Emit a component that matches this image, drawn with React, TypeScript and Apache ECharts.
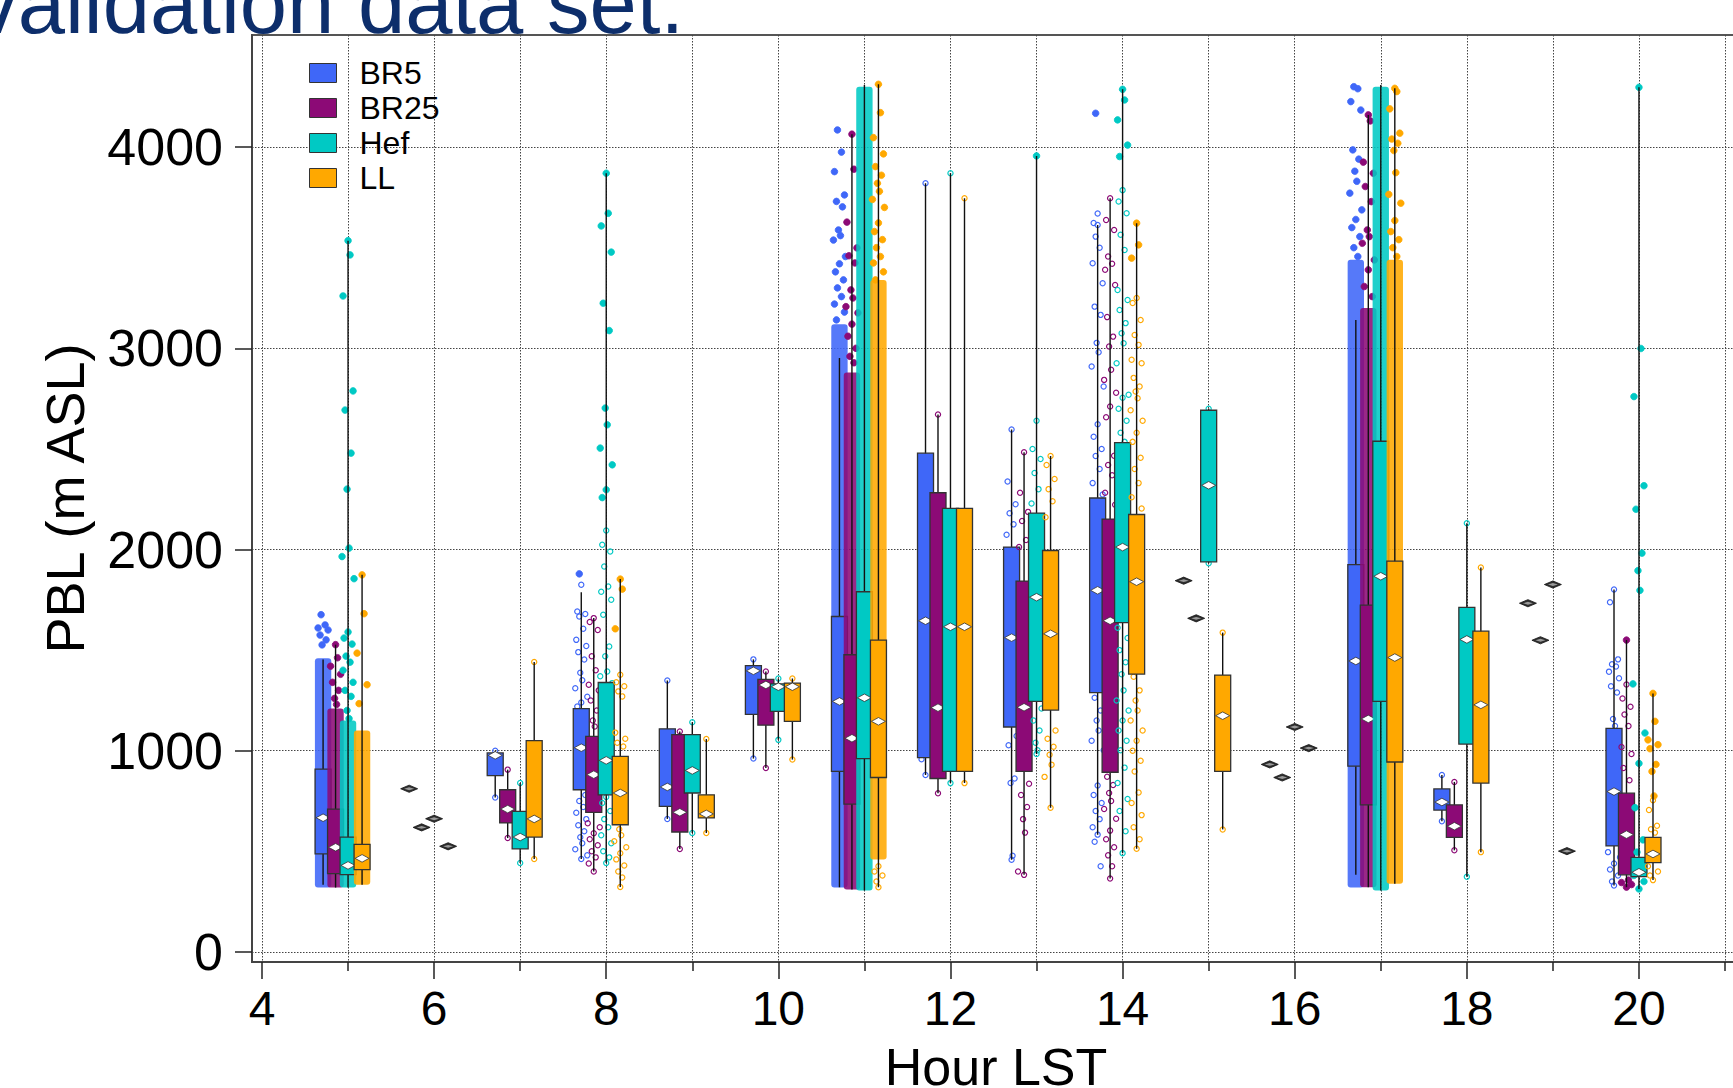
import React, { useEffect, useRef } from "react";
import * as echarts from "echarts";

const FONT = "'Liberation Sans', Arial, Helvetica, sans-serif";

const MODELS = ["BR5", "BR25", "Hef", "LL"];
const COLORS = ["#3f67f8", "#8c0a76", "#00c9c4", "#ffa800"];

const HOURS = [5, 6, 7, 8, 9, 10, 11, 12, 13, 14, 15, 16, 17, 18, 19, 20];
const X_MAJOR = [4, 6, 8, 10, 12, 14, 16, 18, 20];
const X_MINOR = [5, 7, 9, 11, 13, 15, 17, 19, 21];
const Y_TICKS = [0, 1000, 2000, 3000, 4000];

// box stats per hour (aligned with HOURS): [whiskerLow, q1, median, q3, whiskerHigh]; single value = [v]
const BR5_BOX = [
  [334, 487, 667, 909, 1453], [811], [768, 876, 977, 989, 1000], [462, 806, 1015, 1209, 1787],
  [661, 723, 820, 1109, 1349], [961, 1181, 1397, 1423, 1454], [322, 897, 1245, 1667, 2952],
  [879, 966, 1646, 2479, 3820], [458, 1118, 1562, 2012, 2596], [583, 1289, 1797, 2256, 3613],
  [1845], [932], [383, 923, 1446, 1925, 3141], [649, 705, 745, 810, 879], [1733],
  [330, 527, 797, 1111, 1801],
];
const BR25_BOX = [
  [320, 389, 520, 710, 1527], [619], [566, 641, 710, 806, 906], [400, 694, 881, 1071, 1659],
  [512, 596, 694, 1080, 1096], [914, 1127, 1327, 1355, 1394], [310, 735, 1062, 1477, 4064],
  [789, 862, 1214, 2282, 2671], [383, 897, 1216, 1843, 2483], [365, 893, 1646, 2151, 3746],
  [1658], [867], [322, 731, 1158, 1724, 4160], [505, 569, 625, 731, 845], [1549],
  [322, 383, 583, 789, 1550],
];
const HEF_BOX = [
  [320, 384, 430, 571, 3535], [662], [442, 512, 571, 699, 840], [442, 781, 952, 1339, 3870],
  [591, 790, 902, 1080, 1141], [1054, 1196, 1318, 1332, 1359], [305, 961, 1263, 1790, 4309],
  [839, 897, 1616, 2204, 3870], [984, 1245, 1763, 2181, 3956], [491, 1637, 2012, 2531, 4287],
  [1932, 1939, 2319, 2692, 2700], [1118], [305, 1245, 1867, 2538, 4309], [374, 1033, 1553, 1712, 2130],
  [1826], [313, 374, 396, 470, 4297],
];
const LL_BOX = [
  [334, 409, 465, 535, 1874], [525], [462, 571, 661, 1050, 1441], [323, 632, 790, 972, 1853],
  [591, 666, 686, 781, 1058], [956, 1146, 1318, 1336, 1359], [322, 867, 1146, 1550, 4312],
  [839, 897, 1616, 2204, 3746], [717, 1202, 1581, 1995, 2465], [513, 1381, 1840, 2174, 3622],
  [609, 897, 1174, 1376, 1587], [1013], [339, 944, 1463, 1942, 4292], [496, 839, 1228, 1594, 1911],
  [501], [357, 444, 487, 569, 1285],
];

// individual values drawn as open circles: [hour, values]
const BR5_OPEN = [
  [7, [1000, 768]],
  [8, [1825, 1692, 1680, 1667, 1606, 1551, 1520, 1490, 1453, 1388, 1350, 1310, 1268, 1240, 1220, 780, 750, 720, 692, 660, 630, 600, 570, 540, 510, 480, 462]],
  [9, [1349, 661]],
  [10, [1454, 961]],
  [12, [3820, 958, 879]],
  [13, [2596, 2338, 2225, 2180, 2125, 2073, 1073, 1027, 862, 840, 478, 458]],
  [14, [3670, 3623, 3613, 3555, 3500, 3423, 3323, 3207, 3166, 3027, 2980, 2909, 2810, 2622, 2560, 2500, 2465, 2400, 2330, 2273, 1263, 1200, 1150, 1100, 1050, 1002, 827, 780, 740, 700, 660, 620, 583, 548, 426]],
  [18, [879, 649]],
  [20, [1801, 1738, 1454, 1430, 1419, 1393, 1360, 1320, 1289, 1158, 1123, 496, 470, 440, 410, 380, 350, 330]],
];
const BR25_OPEN = [
  [7, [906, 566]],
  [8, [1659, 1640, 1600, 1469, 1400, 1328, 1300, 1250, 1200, 1150, 1120, 640, 620, 590, 560, 530, 500, 470, 440, 400]],
  [9, [1096, 512]],
  [10, [1394, 914]],
  [12, [2671, 789]],
  [13, [2483, 2282, 2187, 2142, 2047, 2012, 836, 780, 720, 660, 593, 400, 383]],
  [14, [3746, 3638, 3588, 3456, 3420, 3390, 3315, 3155, 3058, 3009, 2893, 2843, 2779, 2711, 2657, 2466, 2420, 2369, 2282, 2222, 871, 830, 790, 750, 710, 662, 603, 560, 520, 480, 426, 365]],
  [18, [845, 505]],
  [20, [1329, 1260, 1219, 1180, 1123, 1019, 984, 914, 853]],
];
const HEF_OPEN = [
  [7, [840, 442]],
  [8, [2094, 2024, 1990, 1916, 1816, 1790, 1750, 1676, 1518, 1469, 1394, 1370, 1336, 770, 740, 700, 660, 620, 580, 540, 500, 470, 442]],
  [9, [1141, 591]],
  [10, [1359, 1054]],
  [12, [3870, 839]],
  [13, [2640, 2500, 2450, 2380, 2300, 2229, 1210, 1150, 1100, 1040, 1002, 984]],
  [14, [3786, 3730, 3671, 3564, 3489, 3290, 3240, 3190, 3125, 3075, 3025, 2926, 2769, 2754, 2700, 2640, 2580, 2535, 1611, 1560, 1500, 1440, 1380, 1300, 1250, 1200, 1150, 1100, 1050, 1002, 916, 840, 760, 700, 600, 491]],
  [15, [2700, 1932]],
  [18, [2130, 374]],
];
const LL_OPEN = [
  [7, [1441, 462]],
  [8, [1378, 1340, 1320, 1295, 1270, 1090, 1060, 1040, 1021, 610, 580, 550, 520, 490, 460, 430, 400, 370, 323]],
  [9, [1058, 591]],
  [10, [1359, 956]],
  [11, [426, 400, 380, 350, 322]],
  [12, [3746, 839]],
  [13, [2465, 2420, 2350, 2300, 2240, 2160, 1100, 1060, 1020, 980, 930, 870, 717]],
  [14, [3250, 3225, 3141, 3066, 3017, 2943, 2926, 2853, 2810, 2785, 2752, 2692, 2640, 2580, 2535, 2456, 2400, 2330, 2260, 2204, 1368, 1300, 1250, 1200, 1150, 1100, 1050, 1000, 950, 897, 792, 740, 680, 620, 560, 513]],
  [15, [1587, 609]],
  [18, [1911, 496]],
  [20, [754, 705, 627, 610, 593, 426, 400, 380, 357]],
];

// far outliers drawn as filled dots: [hour, values]
const BR5_FILLED = [
  [5, [1676, 1625, 1610, 1600, 1575, 1551, 1526]],
  [8, [1879]],
  [11, [4085, 3975, 3878, 3762, 3730, 3703, 3588, 3560, 3538, 3456, 3420, 3380, 3340, 3300, 3257, 3220, 3180, 3141]],
  [14, [4168]],
  [17, [4300, 4290, 4226, 4184, 3986, 3940, 3880, 3830, 3771, 3688, 3640, 3600, 3555, 3500, 3456]],
];
const BR25_FILLED = [
  [5, [1527, 1462, 1420, 1380, 1340, 1300, 1260, 1230]],
  [11, [4064, 3890, 3627, 3499, 3460, 3424, 3290, 3250, 3207, 3176, 3120, 3060, 3000, 2960, 2928]],
  [17, [4160, 4130, 3925, 3870, 3804, 3729, 3588, 3555, 3522, 3439, 3390, 3307, 3257]],
  [20, [1550, 357, 345, 335, 322]],
];
const HEF_FILLED = [
  [5, [3535, 3464, 3260, 2788, 2693, 2479, 2300, 2007, 1965, 1855, 1590, 1560, 1530, 1470, 1440, 1400, 1340, 1300, 1270, 1200, 1160]],
  [8, [3870, 3671, 3608, 3478, 3224, 3088, 2703, 2620, 2504, 2421, 2297, 2258]],
  [13, [3956]],
  [14, [4287, 4234, 4135, 4010, 3953]],
  [20, [4297, 2999, 2760, 2317, 2200, 1982, 1895, 1797, 1332, 1088, 937, 717, 557, 496, 409, 380, 350, 313]],
];
const LL_FILLED = [
  [5, [1874, 1681, 1485, 1328, 1234]],
  [8, [1853, 1803, 1606]],
  [11, [4312, 4171, 4047, 3966, 3903, 3860, 3820, 3780, 3740, 3700, 3623, 3580, 3540, 3500, 3456, 3424, 3380, 3340]],
  [14, [3622, 3514, 3448]],
  [17, [4292, 4276, 4190, 4069, 4040, 4019, 3983, 3873, 3765, 3721, 3635, 3580, 3540, 3500, 3456]],
  [20, [1285, 1146, 1054, 1030, 1010, 932, 897, 775]],
];

// ranges fully packed with points: [hour, low, high]
const BR5_DENSE = [[5, 320, 1460], [11, 320, 3120], [17, 320, 3440]];
const BR25_DENSE = [[5, 320, 1210], [11, 310, 2880], [17, 322, 3200]];
const HEF_DENSE = [[5, 320, 1150], [11, 305, 4300], [17, 305, 4300]];
const LL_DENSE = [[5, 334, 1100], [11, 460, 3340], [17, 339, 3440]];

const BOXES = [BR5_BOX, BR25_BOX, HEF_BOX, LL_BOX];
const OPENS = [BR5_OPEN, BR25_OPEN, HEF_OPEN, LL_OPEN];
const FILLEDS = [BR5_FILLED, BR25_FILLED, HEF_FILLED, LL_FILLED];
const DENSES = [BR5_DENSE, BR25_DENSE, HEF_DENSE, LL_DENSE];

// layout/styling (not data)
const OFFSETS = [-0.29, -0.145, 0, 0.163];
const BOXW = 0.186;
const BANDW = 0.19;
const JITTER = [0, -4, 4, -2, 2, -5, 5, -3, 3, -1, 1, -6, 6];
const XMIN = 3.884;
const XMAX = 21.174;

const DOTTED = { color: "#444", type: [1.5, 1.5], width: 1 };

export default function App() {
  const ref = useRef<HTMLDivElement>(null);

  useEffect(() => {
    if (!ref.current) return;
    const chart = echarts.init(ref.current, null, { renderer: "svg" });

    const series: any[] = [];
    MODELS.forEach((m, i) => {
      const color = COLORS[i];
      const off = OFFSETS[i];
      const boxes = BOXES[i];
      const boxData = HOURS.map((h, k) => {
        const b = boxes[k];
        const s = b.length === 1 ? [b[0], b[0], b[0], b[0], b[0]] : b;
        return [h + off, ...s];
      });
      const boxFor = (h: number) => boxes[HOURS.indexOf(h)];
      const bandData = DENSES[i].map(([h, lo, hi]) => [h + off, lo, hi]);
      const ptData: number[][] = [];
      OPENS[i].forEach(([h, vals]: any) => {
        const b = boxFor(h);
        vals.forEach((v: number, j: number) => {
          const end = v === b[0] || v === b[b.length - 1];
          ptData.push([h + off, v, 0, end ? -1 : j]);
        });
      });
      FILLEDS[i].forEach(([h, vals]: any) => {
        const b = boxFor(h);
        vals.forEach((v: number, j: number) => {
          const end = v === b[0] || v === b[b.length - 1];
          ptData.push([h + off, v, 1, end ? -1 : j + 3]);
        });
      });

      series.push({
        type: "custom",
        name: m + " dense",
        z: 10 * i + 1,
        silent: true,
        encode: { x: 0, y: [1, 2] },
        data: bandData,
        renderItem: (params: any, api: any) => {
          const x = api.value(0);
          const a = api.coord([x, api.value(2)]);
          const b = api.coord([x, api.value(1)]);
          const w = api.size([BANDW, 0])[0];
          return {
            type: "rect",
            shape: { x: a[0] - w / 2, y: a[1], width: w, height: b[1] - a[1], r: 3 },
            style: { fill: color, opacity: 0.88 },
          };
        },
      });

      series.push({
        type: "custom",
        name: m + " points",
        z: 10 * i + 2,
        silent: true,
        encode: { x: 0, y: 1 },
        data: ptData,
        renderItem: (params: any, api: any) => {
          const x = api.value(0);
          const v = api.value(1);
          const f = api.value(2);
          const j = api.value(3);
          const p = api.coord([x, v]);
          const dx = j < 0 ? 0 : JITTER[j % JITTER.length];
          if (f) {
            return {
              type: "circle",
              shape: { cx: p[0] + dx, cy: p[1], r: 3.3 },
              style: { fill: color, stroke: color, lineWidth: 0.8 },
            };
          }
          return {
            type: "circle",
            shape: { cx: p[0] + dx, cy: p[1], r: 2.6 },
            style: { fill: "none", stroke: color, lineWidth: 1.2 },
          };
        },
      });

      series.push({
        type: "custom",
        name: m,
        z: 10 * i + 3,
        itemStyle: { color },
        encode: { x: 0, y: [1, 2, 3, 4, 5] },
        data: boxData,
        renderItem: (params: any, api: any) => {
          const x = api.value(0);
          const lo = api.value(1);
          const q1 = api.value(2);
          const md = api.value(3);
          const q3 = api.value(4);
          const hi = api.value(5);
          const c = api.coord([x, md]);
          const hw = api.size([BOXW, 0])[0] / 2;
          if (lo === hi) {
            return {
              type: "group",
              children: [
                {
                  type: "polygon",
                  shape: { points: [[c[0] - 8.5, c[1]], [c[0], c[1] - 3.6], [c[0] + 8.5, c[1]], [c[0], c[1] + 3.6]] },
                  style: { fill: "#2e2e2e", stroke: "#111", lineWidth: 0.8 },
                },
                {
                  type: "polygon",
                  shape: { points: [[c[0] - 5, c[1]], [c[0], c[1] - 1.4], [c[0] + 5, c[1]], [c[0], c[1] + 1.4]] },
                  style: { fill: "#9a9a9a" },
                },
              ],
            };
          }
          const pHi = api.coord([x, hi]);
          const pLo = api.coord([x, lo]);
          const p3 = api.coord([x, q3]);
          const p1 = api.coord([x, q1]);
          return {
            type: "group",
            children: [
              {
                type: "line",
                shape: { x1: c[0], y1: pHi[1], x2: c[0], y2: pLo[1] },
                style: { stroke: "#111", lineWidth: 1.4 },
              },
              {
                type: "rect",
                shape: { x: c[0] - hw, y: p3[1], width: 2 * hw, height: p1[1] - p3[1] },
                style: { fill: color, stroke: "#333", lineWidth: 1.3 },
              },
              {
                type: "polygon",
                shape: { points: [[c[0] - hw + 1, c[1]], [c[0], c[1] - 3.8], [c[0] + hw - 1, c[1]], [c[0], c[1] + 3.8]] },
                style: { fill: "#ffffff", stroke: "#333", lineWidth: 0.8 },
              },
            ],
          };
        },
      });
    });

    const option: any = {
      animation: false,
      backgroundColor: "#ffffff",
      textStyle: { fontFamily: FONT },
      grid: {
        left: 252,
        top: 35,
        width: 1488,
        height: 927,
        show: true,
        borderColor: "#555",
        borderWidth: 2,
        containLabel: false,
        outerBoundsMode: "none",
      },
      legend: {
        orient: "vertical",
        left: 309,
        top: 57,
        padding: 0,
        itemGap: 3,
        itemWidth: 27,
        itemHeight: 19,
        icon: "rect",
        selectedMode: false,
        textStyle: { fontSize: 32, fontFamily: FONT, color: "#000", lineHeight: 32, padding: [0, 0, 0, 18] },
        data: MODELS.map((m, i) => ({
          name: m,
          icon: "rect",
          itemStyle: { color: COLORS[i], borderColor: "#333", borderWidth: 1 },
        })),
      },
      xAxis: [
        {
          type: "value",
          min: XMIN,
          max: XMAX,
          position: "bottom",
          axisLine: { show: true, onZero: false, lineStyle: { color: "#444", width: 2 } },
          axisTick: { show: true, customValues: X_MAJOR, length: 17, lineStyle: { color: "#222", width: 1.5 } },
          axisLabel: {
            customValues: X_MAJOR,
            fontSize: 48,
            fontFamily: FONT,
            color: "#000",
            margin: 22,
            formatter: (v: number) => String(v),
          },
          splitLine: { show: true, lineStyle: DOTTED },
          name: "Hour LST",
          nameLocation: "middle",
          nameGap: 79,
          nameMoveOverlap: false,
          nameTextStyle: { fontSize: 52, fontFamily: FONT, color: "#000" },
        },
        {
          type: "value",
          min: XMIN,
          max: XMAX,
          position: "bottom",
          axisLine: { show: false, onZero: false },
          axisTick: { show: true, customValues: X_MINOR, length: 9, lineStyle: { color: "#222", width: 1.5 } },
          axisLabel: { show: false },
          splitLine: { show: true, lineStyle: DOTTED },
        },
      ],
      yAxis: {
        type: "value",
        min: -50,
        max: 4557,
        axisLine: { show: true, onZero: false, lineStyle: { color: "#444", width: 2 } },
        axisTick: { show: true, customValues: Y_TICKS, length: 17, lineStyle: { color: "#222", width: 1.5 } },
        axisLabel: {
          customValues: Y_TICKS,
          fontSize: 52,
          fontFamily: FONT,
          color: "#000",
          margin: 29,
          formatter: (v: number) => String(v),
        },
        splitLine: { show: true, lineStyle: DOTTED },
        name: "PBL (m ASL)",
        nameLocation: "middle",
        nameGap: 160,
        nameMoveOverlap: false,
        nameTextStyle: { fontSize: 54, fontFamily: FONT, color: "#000" },
      },
      graphic: [
        {
          type: "text",
          z: 100,
          style: {
            text: "validation data set.",
            x: 684,
            y: 3,
            align: "right",
            verticalAlign: "middle",
            fontSize: 85,
            fontFamily: FONT,
            fill: "#0d2e6b",
          },
        },
      ],
      series,
    };

    chart.setOption(option);
    return () => chart.dispose();
  }, []);

  return (
    <div
      ref={ref}
      style={{ position: "fixed", left: 0, top: 0, width: 1733, height: 1088, background: "#fff" }}
    />
  );
}
